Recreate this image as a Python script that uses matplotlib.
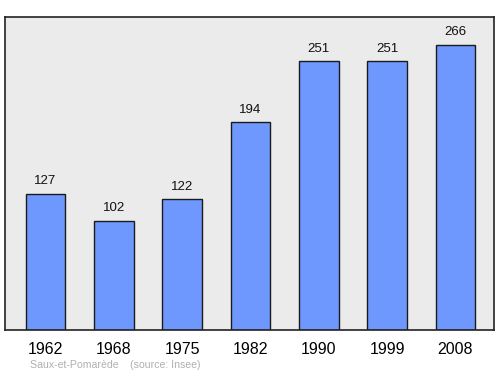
import matplotlib
matplotlib.use("Agg")
import matplotlib.pyplot as plt

years = ["1962", "1968", "1975", "1982", "1990", "1999", "2008"]
population = [127, 102, 122, 194, 251, 251, 266]
source_text = "Saux-et-Pomarède    (source: Insee)"

plt.rcParams['font.family'] = ['Liberation Sans', 'DejaVu Sans']

fig = plt.figure(figsize=(5.0, 3.74), dpi=100)
# panel spans x 5..494, y 17..330 in pixels
ax = fig.add_axes([5 / 500, 1 - 330 / 374, 489 / 500, 313 / 374])
ax.set_facecolor('#ebebeb')

pos = list(range(len(years)))
ax.bar(pos, population, width=0.578, color='#6f98ff', edgecolor='#1a1a1a', linewidth=1.0)

for x, v in zip(pos, population):
    ax.text(x, v + 6, str(v), ha='center', va='bottom', fontsize=9.5, color='#111111')

ax.set_xlim(-0.593, 6.564)
ax.set_ylim(0, 292)
ax.set_xticks(pos)
ax.set_xticklabels(years, fontsize=11.5)
ax.tick_params(axis='x', length=0, pad=9)
ax.set_yticks([])
for s in ax.spines.values():
    s.set_linewidth(1.2)
    s.set_color('#222222')

fig.text(30 / 500, 1 - 365 / 374, source_text, fontsize=7.6, color='#b0b0b0', va='center')

fig.savefig("out.png", dpi=100)
